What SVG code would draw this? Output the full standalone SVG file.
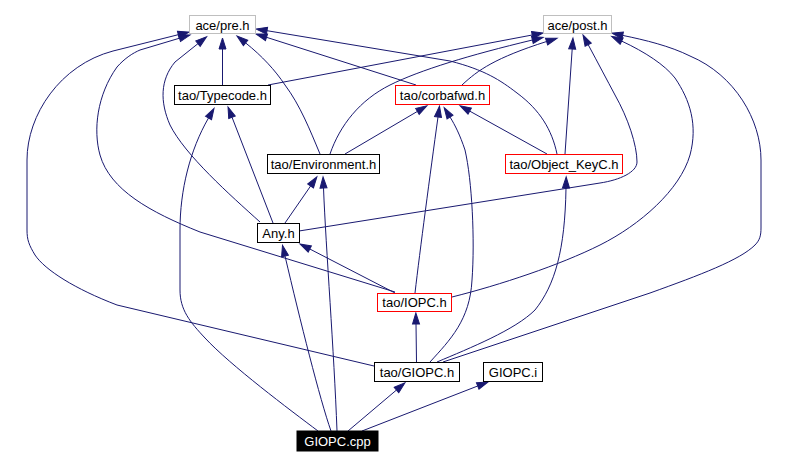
<svg xmlns="http://www.w3.org/2000/svg" width="788" height="465" viewBox="0 0 788 465">
<style>
.e{fill:none;stroke:#191970;stroke-width:1;marker-end:url(#a)}
.n rect{fill:#fff;stroke:#000;stroke-width:1}
.n.g rect{stroke:#bfbfbf}
.n.r rect{stroke:#ff0000}
.n text{font-family:"Liberation Sans",Arial,sans-serif;font-size:13px;text-anchor:middle;fill:#000}
.n.b rect{fill:#000;stroke:#000}
.n.b text{fill:#fff}
</style>
<defs>
<marker id="a" markerUnits="userSpaceOnUse" markerWidth="11" markerHeight="7" refX="0" refY="3.5" orient="auto" overflow="visible">
<path d="M0,0 L11,3.5 L0,7 z" fill="#191970" stroke="#191970" stroke-width="1"/>
</marker>
</defs>
<rect width="788" height="465" fill="#fff"/>
<g id="edges">
<path class="e" d="M374,366 L117,305 C75,289 45,270 35,255 C29,245 27,240 27,230 L27,160 C27,115 60,65 113,51 L178.3,34.7"/>
<path class="e" d="M395,292 L200,232 C150,212 110,190 100,155 C93,130 97,95 117,67 C125,58 133,53 140,50 L179.5,38.2"/>
<path class="e" d="M260,222 C230,195 185,155 170,125 C160,102 160,80 175,62 L198,43.6"/>
<path class="e" d="M222.5,85 L222.5,49"/>
<path class="e" d="M320,154 C310,130 300,105 285,85 C275,70 262,56 245.6,42.9"/>
<path class="e" d="M416,85 L266.5,37.3"/>
<path class="e" d="M557,154 C552,130 540,110 517,93 C500,80 485,70 450,61 L267,30.7"/>
<path class="e" d="M268,85 L532.2,35"/>
<path class="e" d="M330,154 C340,125 360,100 390,85 C420,70 470,55 532.4,40"/>
<path class="e" d="M462,85 C478,70 495,58 546.6,41.5"/>
<path class="e" d="M565,154 L572.2,49"/>
<path class="e" d="M299,231 L600,183 C620,180 637,172 637,162 C637,145 628,118 615,95 C607,80 598,63 588.2,44.7"/>
<path class="e" d="M452,297 C500,285 560,265 600,245 C640,225 680,190 690,155 C698,125 690,100 675,78 C665,65 645,52 621.7,41.1"/>
<path class="e" d="M443,362 L650,293 C700,275 740,260 755,245 C760,240 761,235 761,228 L761,160 C761,120 735,75 690,56 C670,46 645,40 622.7,35.4"/>
<path class="e" d="M437,362 C470,348 515,330 535,310 C555,285 565,250 566,188"/>
<path class="e" d="M430,362 C450,340 470,320 472,280 C475,240 472,180 465,150 C460,135 455,125 450,117"/>
<path class="e" d="M415,293 C420,250 430,175 438,117"/>
<path class="e" d="M345,154 L417.4,111.4"/>
<path class="e" d="M547,154 L469.7,111.1"/>
<path class="e" d="M318,431 C290,410 230,365 205,338 C190,322 180,310 180,290 L180,230 C180,190 190,150 208.5,118"/>
<path class="e" d="M273,223 L232,117.2"/>
<path class="e" d="M285,223 L310.6,186"/>
<path class="e" d="M337,431 C334,350 326,250 323.5,188"/>
<path class="e" d="M331,431 C320,400 300,320 285,256"/>
<path class="e" d="M395,293 L309.8,249"/>
<path class="e" d="M348,431 L396.5,390"/>
<path class="e" d="M362,431 L477.7,386"/>
<path class="e" d="M416.5,362 L416,324"/>
</g>
<g id="ace_pre_h" class="n g"><rect x="189.5" y="15.5" width="66" height="18"/><text x="222.5" y="29.5">ace/pre.h</text></g>
<g id="ace_post_h" class="n g"><rect x="543.5" y="15.5" width="68" height="18"/><text x="577.5" y="29.5">ace/post.h</text></g>
<g id="tao_Typecode_h" class="n"><rect x="174.5" y="85.5" width="96" height="19"/><text x="222.5" y="99.5">tao/Typecode.h</text></g>
<g id="tao_corbafwd_h" class="n r"><rect x="395.5" y="85.5" width="94" height="19"/><text x="442.5" y="99.5">tao/corbafwd.h</text></g>
<g id="tao_Environment_h" class="n"><rect x="267.5" y="154.5" width="112" height="19"/><text x="323.5" y="168.5">tao/Environment.h</text></g>
<g id="tao_Object_KeyC_h" class="n r"><rect x="505.5" y="154.5" width="117" height="19"/><text x="564" y="168.5">tao/Object_KeyC.h</text></g>
<g id="Any_h" class="n"><rect x="257.5" y="223.5" width="42" height="19"/><text x="278.5" y="237.5">Any.h</text></g>
<g id="tao_IOPC_h" class="n r"><rect x="377.5" y="293.5" width="74" height="18"/><text x="414.5" y="307">tao/IOPC.h</text></g>
<g id="tao_GIOPC_h" class="n"><rect x="374.5" y="362.5" width="85" height="19"/><text x="417" y="376.5">tao/GIOPC.h</text></g>
<g id="GIOPC_i" class="n"><rect x="483.5" y="362.5" width="59" height="19"/><text x="513" y="376.5">GIOPC.i</text></g>
<g id="GIOPC_cpp" class="n b"><rect x="297" y="431" width="81" height="20"/><text x="337.5" y="445.5">GIOPC.cpp</text></g>
</svg>
